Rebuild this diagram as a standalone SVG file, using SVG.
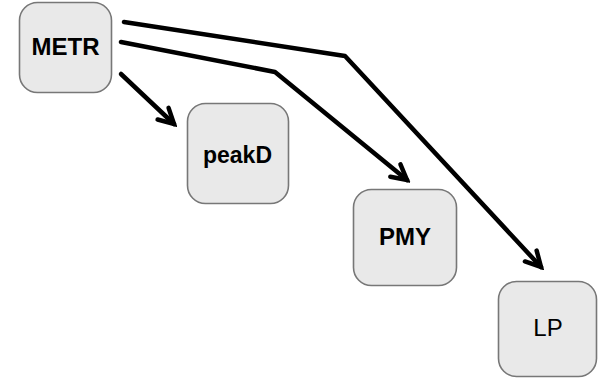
<svg xmlns="http://www.w3.org/2000/svg" width="598" height="379" viewBox="0 0 598 379">
<style>
.node rect{fill:#e9e9e9;stroke:#777;stroke-width:1.6}
.node text{font-family:"Liberation Sans",Arial,sans-serif;font-size:24px;font-weight:bold;fill:#000;text-anchor:middle}
.node text.reg{font-weight:normal}
.edge{fill:none;stroke:#000;stroke-width:4.5;stroke-linejoin:round;stroke-linecap:round;marker-end:url(#arr)}
</style>
<defs>
<marker id="arr" markerUnits="userSpaceOnUse" viewBox="0 0 22 22" markerWidth="22" markerHeight="22" refX="18" refY="11" orient="auto">
<path d="M3,3 L18,11 L3,19" fill="none" stroke="#000" stroke-width="4.5" stroke-linejoin="miter" stroke-linecap="round"/>
</marker>
</defs>
<rect width="598" height="379" fill="#fff"/>
<g id="connectors">
<polyline class="edge" points="121,74 174,124"/>
<polyline class="edge" points="121,42 275,72 407,180"/>
<polyline class="edge" points="124,22 345,56 541,267"/>
</g>
<g id="METR" class="node"><rect x="19.5" y="2.5" width="92" height="90" rx="18"/><text x="65.5" y="55">METR</text></g>
<g id="peakD" class="node"><rect x="187.5" y="103.5" width="101" height="100" rx="18"/><text x="237.5" y="163" style="font-size:23px">peakD</text></g>
<g id="PMY" class="node"><rect x="353.5" y="189.5" width="103" height="96" rx="18"/><text x="405" y="245">PMY</text></g>
<g id="LP" class="node"><rect x="498.5" y="281.5" width="98" height="95" rx="18"/><text x="548" y="336" class="reg">LP</text></g>
</svg>
